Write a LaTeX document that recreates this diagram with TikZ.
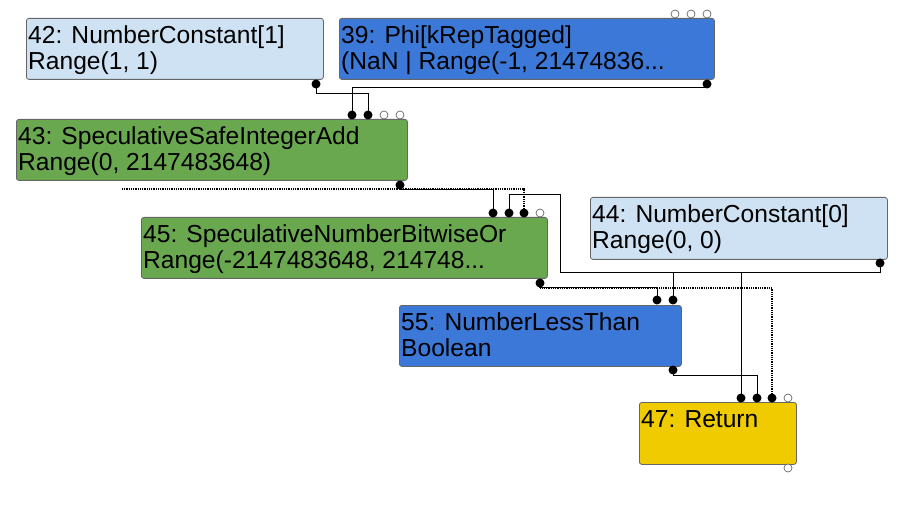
\documentclass[tikz,border=0pt]{standalone}
\usepackage{fontspec}
\setmainfont{Liberation Sans}
\definecolor{constblue}{HTML}{CFE2F3}
\definecolor{phiblue}{HTML}{3C78D8}
\definecolor{specgreen}{HTML}{6AA84F}
\definecolor{retyellow}{HTML}{EFCB00}
\tikzset{
 opbox/.style={draw=black!60, line width=0.8pt, rounded corners=2.5pt, anchor=north west, inner sep=0pt},
 optext/.style={anchor=north west, inner sep=0pt, align=left, font=\fontsize{24.6}{26}\selectfont},
 usedport/.style={circle, fill=black, inner sep=0pt, minimum size=9pt},
 freeport/.style={circle, draw=black!60, fill=white, inner sep=0pt, minimum size=8pt, line width=0.7pt},
 wire/.style={line width=1pt},
 effectwire/.style={line width=1.2pt, dash pattern=on 1pt off 0.8pt}
}
\begin{document}
\begin{tikzpicture}[x=1pt,y=-1pt]
\useasboundingbox (0,0) rectangle (917,510);
% boxes
\node[opbox, fill=constblue, minimum width=297pt, minimum height=61pt] (n42) at (26,18) {};
\node[opbox, fill=phiblue, minimum width=375pt, minimum height=61pt] (n39) at (339,18) {};
\node[opbox, fill=specgreen, minimum width=391pt, minimum height=61pt] (n43) at (16,119) {};
\node[opbox, fill=specgreen, minimum width=406pt, minimum height=61pt] (n45) at (141,217) {};
\node[opbox, fill=constblue, minimum width=297pt, minimum height=62pt] (n44) at (590,197) {};
\node[opbox, fill=phiblue, minimum width=282pt, minimum height=61pt] (n55) at (399,305) {};
\node[opbox, fill=retyellow, minimum width=157pt, minimum height=62pt] (n47) at (639,402) {};
% texts
\node[optext] (t42) at (28,24.8) {\strut 42: NumberConstant[1]\\Range(1, 1)};
\node[optext] (t39) at (341,24.8) {\strut 39: Phi[kRepTagged]\\(NaN | Range(-1, 21474836...};
\node[optext] (t43) at (18,125.8) {\strut 43: SpeculativeSafeIntegerAdd\\Range(0, 2147483648)};
\node[optext] (t45) at (143,223.8) {\strut 45: SpeculativeNumberBitwiseOr\\Range(-2147483648, 214748...};
\node[optext] (t44) at (592,203.8) {\strut 44: NumberConstant[0]\\Range(0, 0)};
\node[optext] (t55) at (401,311.8) {\strut 55: NumberLessThan\\Boolean};
\node[optext] (t47) at (641,408.8) {\strut 47: Return};
% ports
\node[freeport] (f39a) at (675,14) {};
\node[freeport] (f39b) at (691,14) {};
\node[freeport] (f39c) at (707,14) {};
\node[usedport] (o42) at (316,84) {};
\node[usedport] (o39) at (707,84) {};
\node[usedport] (i43a) at (352,115) {};
\node[usedport] (i43b) at (368,115) {};
\node[freeport] (f43a) at (384,115) {};
\node[freeport] (f43b) at (400,115) {};
\node[usedport] (o43) at (400,185) {};
\node[usedport] (i45a) at (493,213) {};
\node[usedport] (i45b) at (509,213) {};
\node[usedport] (i45c) at (524,213) {};
\node[freeport] (f45) at (540,213) {};
\node[usedport] (o45) at (540,283) {};
\node[usedport] (o44) at (880,263) {};
\node[usedport] (i55a) at (657,300) {};
\node[usedport] (i55b) at (673,300) {};
\node[usedport] (o55) at (673,370) {};
\node[usedport] (i47a) at (741,398) {};
\node[usedport] (i47b) at (757,398) {};
\node[usedport] (i47c) at (772,398) {};
\node[freeport] (f47a) at (788,398) {};
\node[freeport] (f47b) at (788,468) {};
\coordinate (fx) at (122,189);
% wires
\draw[wire] (o42.center) -- ++(0,10) -| (i43b.center);
\draw[wire] (o39.center) -- ++(0,4) -| (i43a.center);
\draw[wire] (o43.center) -- ++(0,5) -| (i45a.center);
\draw[effectwire] (fx) -| (i45c.center);
\draw[wire] (o44.center) -- ++(0,10) -| (560,195) -| (i45b.center);
\draw[wire] (o44.center) -- ++(0,10) -| (i55b.center);
\draw[wire] (o44.center) -- ++(0,10) -| (i47a.center);
\draw[wire] (o45.center) -- ++(0,5) -| (i55a.center);
\draw[effectwire] (o45.center) -- ++(0,5) -| (i47c.center);
\draw[wire] (o55.center) -- ++(0,5) -| (i47b.center);
\end{tikzpicture}
\end{document}
